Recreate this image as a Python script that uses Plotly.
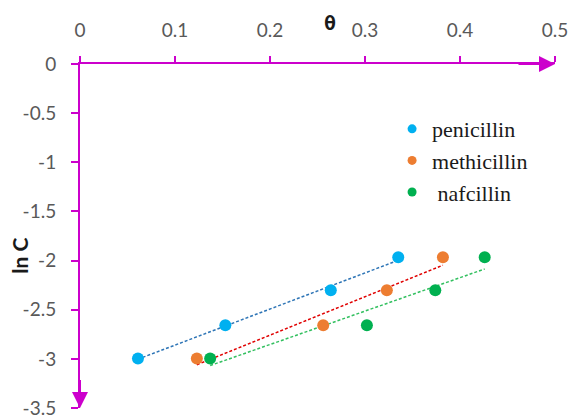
import numpy as np
import plotly.graph_objects as go

# Adsorption data: surface coverage theta vs ln C for three antibiotics
ln_c = [-2.996, -2.659, -2.303, -1.966]
theta_penicillin = [0.061, 0.153, 0.264, 0.335]
theta_methicillin = [0.123, 0.256, 0.323, 0.382]
theta_nafcillin = [0.137, 0.302, 0.374, 0.426]

series_names = ["penicillin", "methicillin", " nafcillin"]
marker_colors = ["#00B0F0", "#ED7D31", "#00B050"]
trend_colors = ["#2E75B6", "#E00000", "#33C060"]
x_ticks = [0, 0.1, 0.2, 0.3, 0.4, 0.5]
y_ticks = [0, -0.5, -1, -1.5, -2, -2.5, -3, -3.5]

AXIS = "#CC00CC"
TICK_FONT = dict(family="Lato", size=19, color="#595959")
SERIF = "'Times New Roman', 'Liberation Serif', 'DejaVu Serif', serif"

fig = go.Figure()

all_theta = [theta_penicillin, theta_methicillin, theta_nafcillin]

# linear trend lines (least squares), drawn over each series' theta span
for th, col in zip(all_theta, trend_colors):
    slope, intercept = np.polyfit(th, ln_c, 1)
    xs = np.array([min(th), max(th)])
    fig.add_trace(go.Scatter(
        x=xs, y=slope * xs + intercept, mode="lines",
        line=dict(color=col, width=1.5, dash="3px,2px"),
        showlegend=False, hoverinfo="skip"))

for th, name, col in zip(all_theta, series_names, marker_colors):
    fig.add_trace(go.Scatter(
        x=th, y=ln_c, mode="markers", name=name, showlegend=False,
        marker=dict(color=col, size=12)))
    # smaller symbol for the legend key
    fig.add_trace(go.Scatter(
        x=[None], y=[None], mode="markers", name=name,
        marker=dict(color=col, size=9)))

fig.update_xaxes(
    range=[0, 0.5], side="top", tickvals=x_ticks,
    ticktext=[f"{v:g}" for v in x_ticks],
    showline=True, linecolor=AXIS, linewidth=2,
    ticks="outside", ticklen=6, tickwidth=2, tickcolor=AXIS,
    ticklabelstandoff=11, tickfont=TICK_FONT, automargin=False,
    ticklabeloverflow="allow", showgrid=False, zeroline=False)
fig.update_yaxes(
    range=[-3.5, 0], tickvals=y_ticks,
    ticktext=[f"{v:g}" for v in y_ticks],
    showline=True, linecolor=AXIS, linewidth=2,
    ticks="outside", ticklen=7, tickwidth=2, tickcolor=AXIS,
    ticklabelstandoff=11, tickfont=TICK_FONT, automargin=False,
    ticklabeloverflow="allow", showgrid=False, zeroline=False)

# arrowheads at the ends of both axes
fig.add_annotation(x=0.5, y=0, ax=0.46, ay=0, xref="x", yref="y",
                   axref="x", ayref="y", text="", showarrow=True,
                   arrowhead=2, arrowsize=1.6, arrowwidth=2,
                   arrowcolor=AXIS, standoff=0)
fig.add_annotation(x=0, y=-3.5, ax=0, ay=-3.2, xref="x", yref="y",
                   axref="x", ayref="y", text="", showarrow=True,
                   arrowhead=2, arrowsize=1.6, arrowwidth=2,
                   arrowcolor=AXIS, standoff=0)

# axis titles
fig.add_annotation(x=0.263, y=1, xref="x", yref="paper", yshift=41,
                   yanchor="middle", xanchor="center",
                   text="<b>θ</b>", showarrow=False,
                   font=dict(family="DejaVu Sans Mono", size=20, color="#1a1a1a"))
fig.add_annotation(x=0, y=-1.95, xref="paper", yref="y", xshift=-60,
                   xanchor="center", yanchor="middle",
                   text="<b>ln C</b>", showarrow=False, textangle=-90,
                   font=dict(family="Lato", size=21, color="#1a1a1a"))

fig.update_layout(
    width=577, height=418,
    margin=dict(l=80, r=22, t=64, b=10),
    plot_bgcolor="white", paper_bgcolor="white",
    legend=dict(x=0.657, y=0.872, xanchor="left", yanchor="top",
                font=dict(family=SERIF, size=22, color="#1a1a1a"),
                bgcolor="rgba(0,0,0,0)", itemwidth=30),
)

fig.write_html("out.html")
